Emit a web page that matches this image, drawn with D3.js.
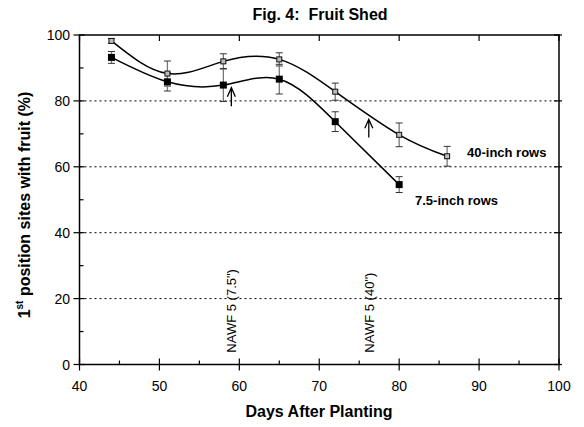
<!DOCTYPE html>
<html><head><meta charset="utf-8">
<script src="https://cdn.jsdelivr.net/npm/d3@7"></script>
<style>body{margin:0;background:#fff}svg{display:block}text{font-family:"Liberation Sans",Arial,sans-serif}</style>
</head><body>
<svg id="c" width="584" height="427"></svg>
<script>
const days40 = [44, 51, 58, 65, 72, 80, 86];
const fruit40 = [98.2, 88.3, 92.0, 92.6, 82.8, 69.7, 63.2];
const err40 = [0.7, 3.8, 2.3, 2.0, 2.6, 3.6, 3.0];
const days75 = [44, 51, 58, 65, 72, 80];
const fruit75 = [93.2, 85.8, 84.8, 86.6, 73.7, 54.6];
const err75 = [1.8, 2.8, 5.0, 4.5, 3.0, 2.4];
const xTicks = [40, 50, 60, 70, 80, 90, 100];
const yTicks = [0, 20, 40, 60, 80, 100];
const gridVals = [20, 40, 60, 80];
const arrowDays = [59, 76.2];
const arrowTip = [84.0, 74.4];
const arrowTail = [78.4, 68.9];
const nawfLabels = ['NAWF 5 (7.5")', 'NAWF 5 (40")'];

const svg = d3.select("#c");
const x = d3.scaleLinear([40, 100], [79.5, 559]);
const y = d3.scaleLinear([0, 100], [364.5, 35]);

// grid
svg.append("g").selectAll("line").data(gridVals).join("line")
  .attr("x1", x(40)).attr("x2", x(100)).attr("y1", d => y(d)).attr("y2", d => y(d))
  .attr("stroke", "#000").attr("stroke-width", 1).attr("stroke-dasharray", "2,3");

// frame
svg.append("rect").attr("x", x(40)).attr("y", y(100)).attr("width", x(100) - x(40)).attr("height", y(0) - y(100))
  .attr("fill", "none").attr("stroke", "#000").attr("stroke-width", 1.5);

const minorX = d3.range(45, 100, 10);
const minorY = d3.range(10, 100, 20);
const tk = svg.append("g").attr("stroke", "#000").attr("stroke-width", 1.2);
tk.selectAll(".bx").data(xTicks).join("line").attr("x1", d => x(d)).attr("x2", d => x(d)).attr("y1", y(0) - 6).attr("y2", y(0) + 6);
tk.selectAll(".bxm").data(minorX).join("line").attr("x1", d => x(d)).attr("x2", d => x(d)).attr("y1", y(0) - 4).attr("y2", y(0));
tk.selectAll(".tx").data(xTicks).join("line").attr("x1", d => x(d)).attr("x2", d => x(d)).attr("y1", y(100)).attr("y2", y(100) + 6);
tk.selectAll(".ly").data(yTicks).join("line").attr("x1", x(40) - 6).attr("x2", x(40) + 5).attr("y1", d => y(d)).attr("y2", d => y(d));
tk.selectAll(".lym").data(minorY).join("line").attr("x1", x(40)).attr("x2", x(40) + 4).attr("y1", d => y(d)).attr("y2", d => y(d));
tk.selectAll(".ry").data(yTicks).join("line").attr("x1", x(100) - 5).attr("x2", x(100) + 3).attr("y1", d => y(d)).attr("y2", d => y(d));

// tick labels
svg.append("g").selectAll("text").data(xTicks).join("text")
  .attr("x", d => x(d)).attr("y", 391).attr("text-anchor", "middle").attr("font-size", 14).text(d => d);
svg.append("g").selectAll("text").data(yTicks).join("text")
  .attr("x", 70).attr("y", d => y(d) + 5).attr("text-anchor", "end").attr("font-size", 14).text(d => d);

// titles
svg.append("text").attr("x", 320).attr("y", 20).attr("text-anchor", "middle").attr("font-size", 16).attr("font-weight", "bold")
  .style("white-space", "pre").text("Fig. 4:  Fruit Shed");
svg.append("text").attr("x", 319).attr("y", 417).attr("text-anchor", "middle").attr("font-size", 16).attr("font-weight", "bold").text("Days After Planting");
const yl = svg.append("text").attr("transform", "translate(30,205) rotate(-90)").attr("text-anchor", "middle").attr("font-size", 16).attr("font-weight", "bold");
yl.append("tspan").text("1");
yl.append("tspan").attr("font-size", 10).attr("dy", -7).text("st");
yl.append("tspan").attr("dy", 7).text(" position sites with fruit (%)");

// curves
const line = d3.line().x(d => x(d[0])).y(d => y(d[1])).curve(d3.curveNatural);
const s40 = days40.map((d, i) => [d, fruit40[i], err40[i]]);
const s75 = days75.map((d, i) => [d, fruit75[i], err75[i]]);
[s40, s75].forEach(s => svg.append("path").attr("d", line(s)).attr("fill", "none").attr("stroke", "#000").attr("stroke-width", 1.5));

// error bars
function errBars(s) {
  const g = svg.append("g");
  g.selectAll(".v").data(s).join("line").attr("x1", d => x(d[0])).attr("x2", d => x(d[0]))
    .attr("y1", d => y(d[1] + d[2])).attr("y2", d => y(d[1] - d[2])).attr("stroke", "#777").attr("stroke-width", 1.3);
  [1, -1].forEach(sg => g.selectAll(".c" + sg).data(s).join("line").attr("x1", d => x(d[0]) - 3.5).attr("x2", d => x(d[0]) + 3.5)
    .attr("y1", d => y(d[1] + sg * d[2])).attr("y2", d => y(d[1] + sg * d[2])).attr("stroke", "#333").attr("stroke-width", 1));
}
errBars(s40); errBars(s75);

// markers
svg.append("g").selectAll("rect").data(s40).join("rect")
  .attr("x", d => x(d[0]) - 2.5).attr("y", d => y(d[1]) - 2.5).attr("width", 5).attr("height", 5)
  .attr("fill", "#bbb").attr("stroke", "#111").attr("stroke-width", 1);
svg.append("g").selectAll("rect").data(s75).join("rect")
  .attr("x", d => x(d[0]) - 3.5).attr("y", d => y(d[1]) - 3.5).attr("width", 7).attr("height", 7)
  .attr("fill", "#000");

// arrows
arrowDays.forEach((d, i) => {
  const ax = x(d), t = y(arrowTip[i]), b = y(arrowTail[i]);
  svg.append("path").attr("d", `M${ax},${b}L${ax},${t}M${ax - 4},${t + 9}L${ax},${t}L${ax + 4},${t + 9}`)
    .attr("fill", "none").attr("stroke", "#000").attr("stroke-width", 1.3);
  svg.append("text").attr("transform", `translate(${ax + 5},${y(3.6)}) rotate(-90)`).attr("font-size", 13).text(nawfLabels[i]);
});

// series labels
svg.append("text").attr("x", 467).attr("y", 157).attr("font-size", 13).attr("font-weight", "bold").text("40-inch rows");
svg.append("text").attr("x", 415).attr("y", 205).attr("font-size", 13).attr("font-weight", "bold").text("7.5-inch rows");
</script>
</body></html>
